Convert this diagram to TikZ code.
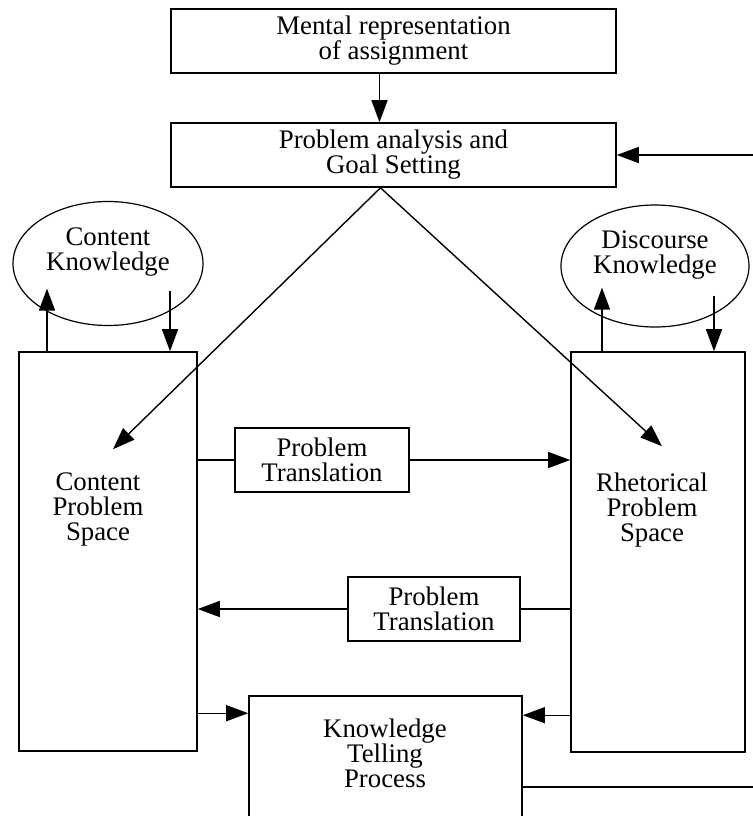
\documentclass[tikz,border=0pt]{standalone}
\usepackage{fontspec}
\setmainfont{Liberation Serif}
\usepackage{tikz}
\usetikzlibrary{shapes.geometric, arrows.meta, calc}
\tikzset{
  % Box styles
  stagebox/.style={rectangle, draw=black, line width=0.8pt, inner sep=0pt, align=center, font=\fontsize{13.4}{12.5}\selectfont},
  knowledgebox/.style={ellipse, draw=black, line width=0.6pt, inner sep=1pt, align=center, text depth=14.3pt, font=\fontsize{13.4}{12.5}\selectfont},
  spacetext/.style={inner sep=0pt, align=center, font=\fontsize{13.4}{12.5}\selectfont},
  % Arrow styles
  arrow/.style={-{Triangle[length=11pt,width=8pt]}, line width=0.7pt},
  plainline/.style={line width=0.7pt}
}

\begin{document}
\begin{tikzpicture}[x=0.5pt, y=-0.5pt]
  \useasboundingbox (0,0) rectangle (752,816);

  % top of the process
  \node[stagebox, minimum width=222.5pt, minimum height=32pt] (mental) at (393.5,41) {Mental representation\\of assignment};
  \node[stagebox, minimum width=222.5pt, minimum height=32pt] (goal) at (393.5,155) {Problem analysis and\\Goal Setting};

  % knowledge stores
  \node[knowledgebox, minimum width=95pt, minimum height=62pt] (content) at (108,263.5) {Content\\Knowledge};
  \node[knowledgebox, minimum width=94pt, minimum height=61pt] (discourse) at (655,266) {Discourse\\Knowledge};

  % problem spaces
  \node[stagebox, minimum width=89pt, minimum height=199.5pt] (cps) at (108,551.5) {};
  \node[spacetext] (cpstext) at (98,509) {Content\\Problem\\Space};
  \node[stagebox, minimum width=87pt, minimum height=200pt] (rps) at (658,552) {};
  \node[spacetext] (rpstext) at (652,510) {Rhetorical\\Problem\\Space};

  \node[stagebox, minimum width=87pt, minimum height=32pt] (transa) at (322,460) {Problem\\Translation};
  \node[stagebox, minimum width=86pt, minimum height=32pt] (transb) at (434,609) {Problem\\Translation};

  \node[stagebox, minimum width=136.5pt, minimum height=67pt] (telling) at (385.5,763) {};
  \node[spacetext] (tellingtext) at (385,753) {Knowledge\\Telling\\Process};

  % arrows
  \draw[arrow] ([xshift=-7pt]mental.south) -- ([xshift=-7pt]goal.north);
  \draw[arrow] ([yshift=-12pt]telling.east) -- ++(250,0) |- (goal.east);

  \coordinate (apex) at ([xshift=-6.5pt]goal.south);
  \draw[arrow] (apex) -- ([xshift=2.5pt,yshift=-49pt]cps.north);
  \draw[arrow] (apex) -- ([xshift=2pt,yshift=-47.5pt]rps.north);

  \draw[arrow] ([xshift=-30.5pt]cps.north) -- ([xshift=-30.5pt,yshift=18.75pt]content.south);
  \draw[arrow] ([xshift=31pt,yshift=17.75pt]content.south) -- ([xshift=31pt]cps.north);
  \draw[arrow] ([xshift=-28pt]rps.north) -- ([xshift=-26.5pt,yshift=20pt]discourse.south);
  \draw[arrow] ([xshift=29.5pt,yshift=16pt]discourse.south) -- ([xshift=28pt]rps.north);

  \draw[plainline] (cps.east |- transa.west) -- (transa.west);
  \draw[arrow] (transa.east) -- (transa.east -| rps.west);
  \draw[plainline] (rps.west |- transb.east) -- (transb.east);
  \draw[arrow] (transb.west) -- (transb.west -| cps.east);

  \coordinate (tellingl) at ([yshift=-9pt]telling.north west);
  \coordinate (tellingr) at ([yshift=-10pt]telling.north east);
  \draw[arrow] (cps.east |- tellingl) -- (tellingl);
  \draw[arrow] (rps.west |- tellingr) -- (tellingr);
\end{tikzpicture}
\end{document}
